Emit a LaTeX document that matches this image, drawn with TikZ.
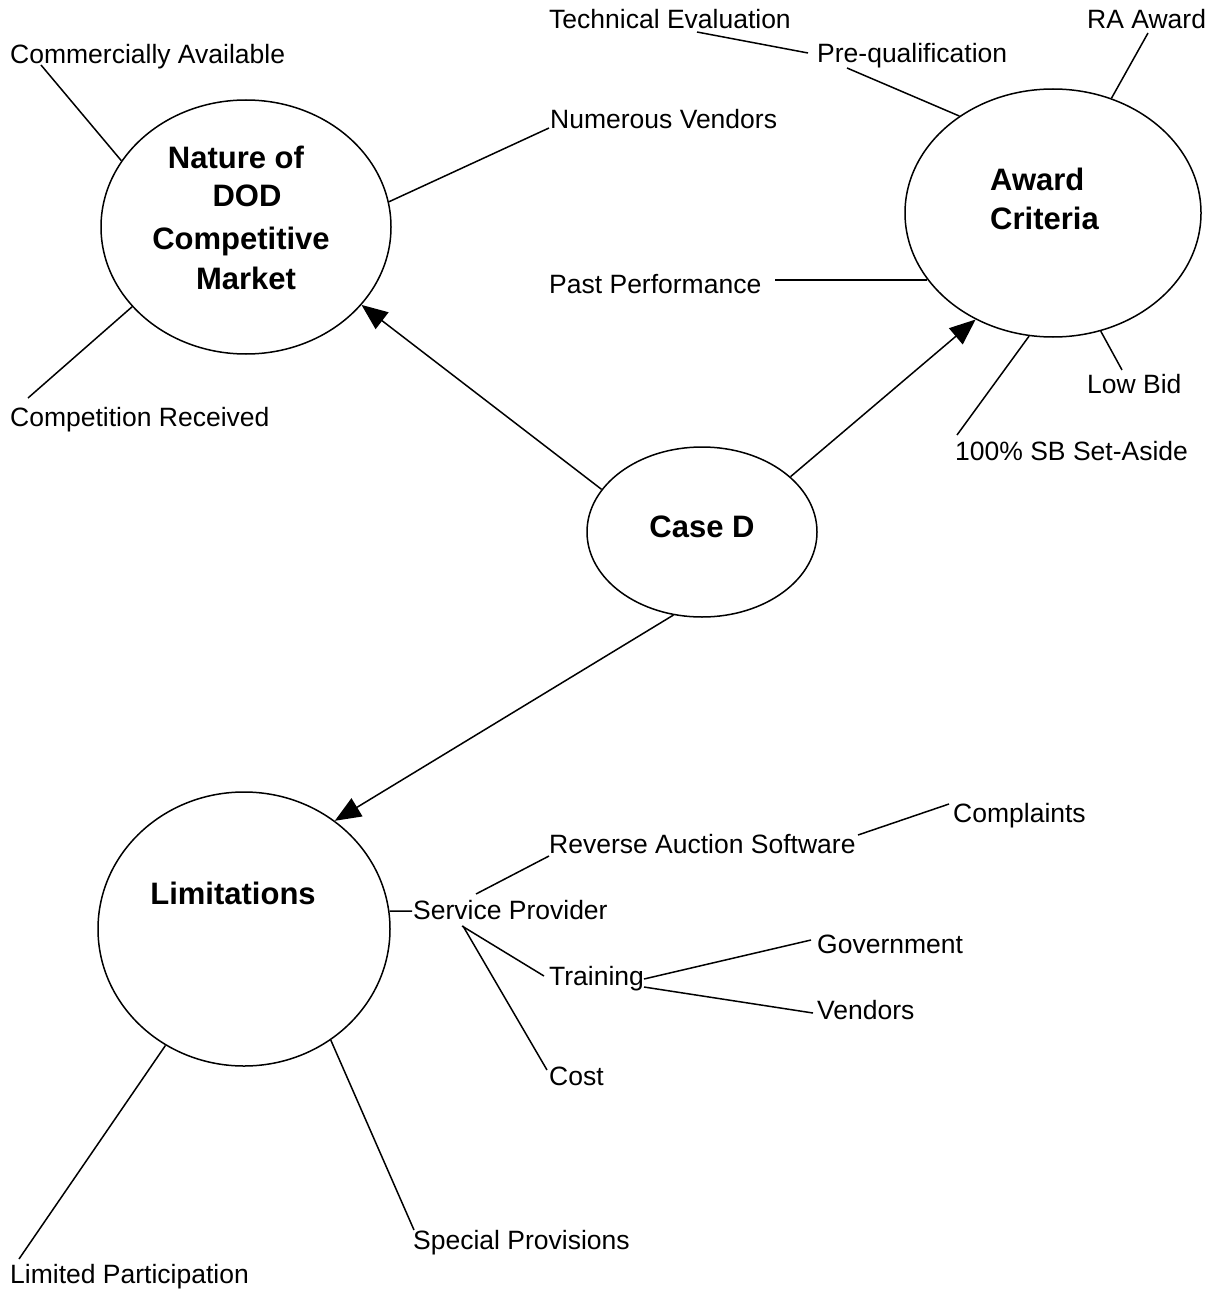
\documentclass[tikz,border=0pt]{standalone}
\usepackage{fontspec}
\setmainfont{Liberation Sans}
\usetikzlibrary{arrows.meta,shapes.geometric}
\tikzset{
  bubble/.style={ellipse, draw, line width=1.5pt, inner sep=0pt},
  leaf/.style={anchor=base west, inner sep=0pt, font=\fontsize{26.5}{30}\selectfont},
  head/.style={anchor=base, inner sep=0pt, font=\fontsize{31}{34}\selectfont\bfseries},
  link/.style={line width=1.5pt},
  arr/.style={line width=1.5pt, -{Triangle[length=26pt,width=21pt]}}
}
\begin{document}
\begin{tikzpicture}[x=1pt,y=-1pt]
\useasboundingbox (0,0) rectangle (1215,1292);
% ellipses
\node[bubble, minimum width=290pt, minimum height=254pt] (nat) at (246,227) {};
\node[bubble, minimum width=296pt, minimum height=248pt] (awd) at (1053,213) {};
\node[bubble, minimum width=230pt, minimum height=170pt] (cased) at (702,532) {};
\node[bubble, minimum width=292pt, minimum height=274pt] (lim) at (244,929) {};
% headings
\node[head] (t1) at (236,168) {Nature of};
\node[head] (t2) at (247,207) {DOD};
\node[head] (t3) at (241,249) {Competitive};
\node[head] (t4) at (246,289) {Market};
\node[head, anchor=base west] (a1) at (990,190) {Award};
\node[head, anchor=base west] (a2) at (990,229) {Criteria};
\node[head] (cd) at (702,537) {Case D};
\node[head] (lt) at (233,904) {Limitations};
% leaf texts
\node[leaf] (comm) at (10,64) {Commercially Available};
\node[leaf] (compr) at (10,426) {Competition Received};
\node[leaf] (numv) at (550,129) {Numerous Vendors};
\node[leaf] (tech) at (549,29) {Technical Evaluation};
\node[leaf] (preq) at (817,63) {Pre-qualification};
\node[leaf] (ra) at (1087,29) {RA Award};
\node[leaf] (past) at (549,293) {Past Performance};
\node[leaf] (low) at (1087,393) {Low Bid};
\node[leaf] (sb) at (955,460) {100\% SB Set-Aside};
\node[leaf] (ras) at (549,853) {Reverse Auction Software};
\node[leaf] (compl) at (953,822) {Complaints};
\node[leaf] (sp) at (413,919) {Service Provider};
\node[leaf] (trn) at (549,985) {Training};
\node[leaf] (gov) at (817,953) {Government};
\node[leaf] (ven) at (817,1019) {Vendors};
\node[leaf] (cost) at (549,1085) {Cost};
\node[leaf] (spec) at (413,1249) {Special Provisions};
\node[leaf] (limp) at (10,1283) {Limited Participation};
% free ends
\coordinate (e-comm) at (41,65);
\coordinate (e-compr) at (28,398);
\coordinate (e-numv) at (549,128);
\coordinate (e-tech) at (697,32);
\coordinate (e-preqa) at (808,53);
\coordinate (e-preqb) at (847,68);
\coordinate (e-ra) at (1148,33);
\coordinate (e-past) at (775,280);
\coordinate (e-low) at (1122,370);
\coordinate (e-sb) at (957,435);
\coordinate (e-sp) at (412,911);
\coordinate (e-spa) at (476,894);
\coordinate (e-ras) at (549,856);
\coordinate (e-rasb) at (858,835);
\coordinate (e-compl) at (949,804);
\coordinate (e-spb) at (462,926);
\coordinate (e-trn) at (544,976);
\coordinate (e-spc) at (463,926);
\coordinate (e-cost) at (547,1070);
\coordinate (e-trna) at (644,979);
\coordinate (e-gov) at (811,940);
\coordinate (e-trnb) at (644,987);
\coordinate (e-ven) at (813,1013);
\coordinate (e-limp) at (19,1259);
\coordinate (e-spec) at (414,1230);
% leaf connectors
\draw[link] (nat.152.7) -- (e-comm);
\draw[link] (nat.215.6) -- (e-compr);
\draw[link] (nat.10.3) -- (e-numv);
\draw[link] (e-tech) -- (e-preqa);
\draw[link] (awd.134.7) -- (e-preqb);
\draw[link] (awd.63.8) -- (e-ra);
\draw[link] (awd.208.5) -- (e-past |- awd.208.5);
\draw[link] (awd.292.5) -- (e-low);
\draw[link] (awd.259.3) -- (e-sb);
\draw[link] (lim.7.1) -- (e-sp);
\draw[link] (e-spa) -- (e-ras);
\draw[link] (e-rasb) -- (e-compl);
\draw[link] (e-spb) -- (e-trn);
\draw[link] (e-spc) -- (e-cost);
\draw[link] (e-trna) -- (e-gov);
\draw[link] (e-trnb) -- (e-ven);
\draw[link] (lim.236.8) -- (e-limp);
\draw[link] (lim.308.3) -- (e-spec);
% arrows
\draw[arr] (cased.157.6) -- (nat.-34.2);
\draw[arr] (cased.32.9) -- (awd.234.7);
\draw[arr] (cased.251.2) -- (lim.50.1);
\end{tikzpicture}
\end{document}
